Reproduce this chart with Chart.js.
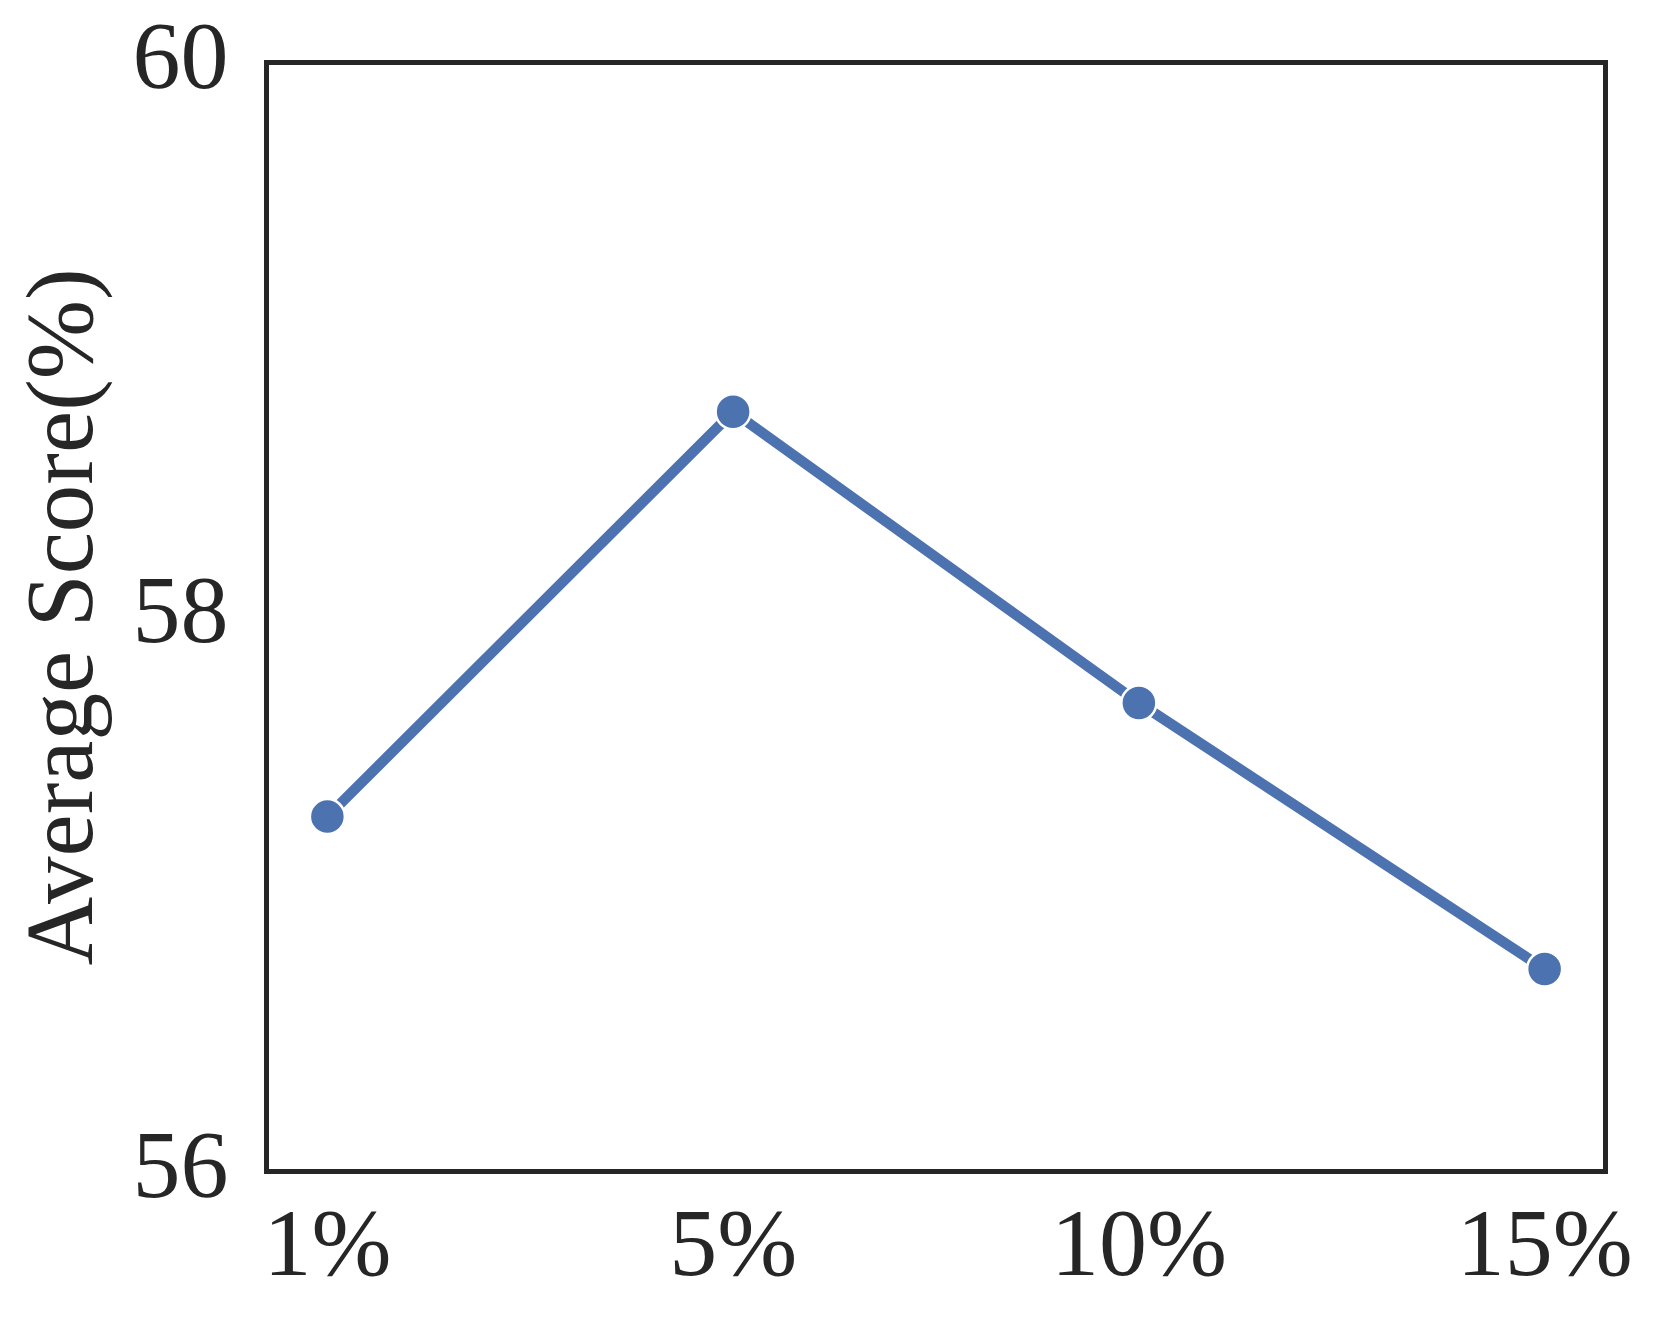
<!DOCTYPE html>
<html>
<head>
<meta charset="utf-8">
<script src="https://cdn.jsdelivr.net/npm/chart.js@4.4.1/dist/chart.umd.min.js"></script>
<style>
html,body{margin:0;padding:0;background:#fff;}
#wrap{width:1662px;height:1326px;position:relative;}
</style>
</head>
<body>
<div id="wrap"><canvas id="c" width="1662" height="1326"></canvas></div>
<script>
const categories = ['1%', '5%', '10%', '15%'];
const scores = [57.28, 58.74, 57.69, 56.73];
const yTicks = [56, 58, 60];

const frame = {
  id: 'frame',
  afterDatasetsDraw(chart) {
    const a = chart.chartArea, ctx = chart.ctx;
    ctx.save();
    ctx.strokeStyle = '#262626';
    ctx.lineWidth = 5;
    ctx.strokeRect(a.left, a.top, a.right - a.left, a.bottom - a.top);
    ctx.restore();
  }
};

const font = "'Liberation Serif', 'Times New Roman', serif";

new Chart(document.getElementById('c'), {
  type: 'line',
  data: {
    datasets: [{
      data: scores.map((v, i) => ({x: i, y: v})),
      borderColor: '#4C72B0',
      backgroundColor: '#4C72B0',
      borderWidth: 10.5,
      pointRadius: 17.5,
      pointBorderColor: '#ffffff',
      pointBorderWidth: 2.5,
      pointBackgroundColor: '#4C72B0',
      fill: false,
      tension: 0
    }]
  },
  options: {
    responsive: false,
    animation: false,
    devicePixelRatio: 1,
    layout: {padding: {left: 0, top: 62.5, right: 56.5, bottom: 0}},
    plugins: {legend: {display: false}, tooltip: {enabled: false}},
    scales: {
      x: {
        type: 'linear',
        min: -0.15,
        max: 3.15,
        afterBuildTicks(s) { s.ticks = categories.map((_, i) => ({value: i})); },
        afterFit(s) { s.height = 154.5; s.paddingLeft = 0; s.paddingRight = 0; },
        grid: {display: false, drawTicks: false},
        border: {display: false},
        ticks: {
          padding: 21,
          color: '#262626',
          font: {family: font, size: 96},
          maxRotation: 0,
          autoSkip: false,
          callback: v => categories[v]
        }
      },
      y: {
        min: 56,
        max: 60,
        afterBuildTicks(s) { s.ticks = yTicks.map(v => ({value: v})); },
        afterFit(s) { s.width = 266.5; s.paddingTop = 0; s.paddingBottom = 0; },
        grid: {display: false, drawTicks: false},
        border: {display: false},
        ticks: {
          padding: 38,
          color: '#262626',
          font: {family: font, size: 96}
        },
        title: {
          display: true,
          text: 'Average Score(%)',
          color: '#262626',
          font: {family: font, size: 95},
          padding: {top: 10, bottom: 0}
        }
      }
    }
  },
  plugins: [frame]
});
</script>
</body>
</html>
